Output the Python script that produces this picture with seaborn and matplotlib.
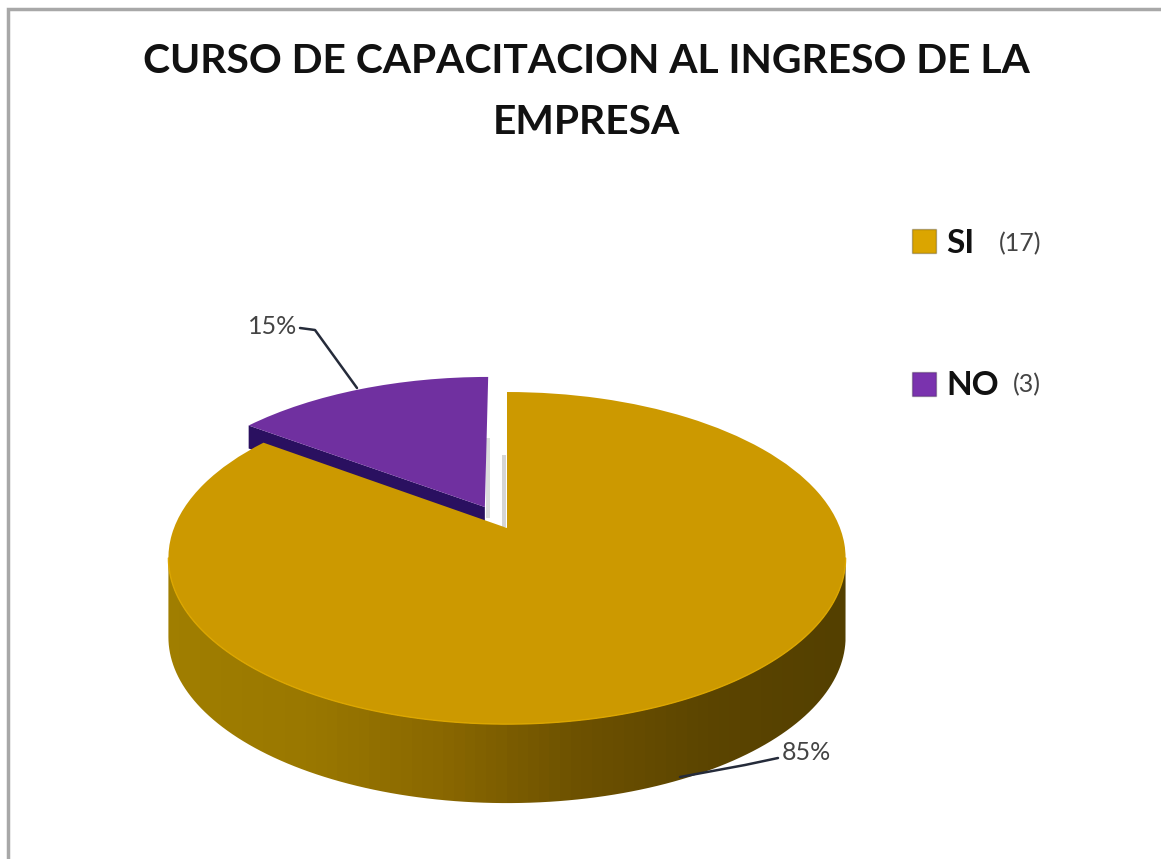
import numpy as np
import matplotlib
matplotlib.use("Agg")
import matplotlib.pyplot as plt
import seaborn as sns
from matplotlib.colors import LinearSegmentedColormap
from matplotlib.patches import Patch, PathPatch, Polygon, Rectangle
from matplotlib.path import Path
from matplotlib.transforms import Transform

# ==============================
# Data
# ==============================
title = "CURSO DE CAPACITACION AL INGRESO DE LA\nEMPRESA"
categories = ["SI", "NO"]
counts = [17, 3]
count_labels = ["(17)", "(3)"]
explode = [0, 0.15]

top_colors = ["#CC9900", "#7030A0"]
wall_colors = ["#A07E00", "#9A7800", "#8A6800", "#6E5200", "#5C4500", "#544000"]
side_color = "#2A1060"

sns.set_theme(style="white")
plt.rcParams["font.family"] = ["Lato", "DejaVu Sans"]

# ==============================
# Perspective of the pie (unit circle -> pixels)
# ==============================
CX, CY = 507, 528
SX, SY, TILT = 333, 160.6, 0.181
DEPTH = 79


def project(xy):
    xy = np.asarray(xy, dtype=float)
    d = 1 + TILT * xy[:, 1]
    return np.column_stack([CX + SX * xy[:, 0] / d, CY - SY * xy[:, 1] / d])


class PieProjection(Transform):
    input_dims = 2
    output_dims = 2

    def transform_non_affine(self, values):
        return project(values)


fig = plt.figure(figsize=(11.61, 8.59), dpi=100, facecolor="white")
ax = fig.add_axes([0, 0, 1, 1])

wedges, _ = ax.pie(counts, explode=explode, colors=top_colors, startangle=90,
                   counterclock=False, radius=1, wedgeprops={"linewidth": 0})
ax.set_aspect("auto")
for w, z in zip(wedges, [4, 3]):
    w.set_transform(PieProjection() + ax.transData)
    w.set_zorder(z)

# ==============================
# Wall of the big slice
# ==============================
theta = np.radians(np.linspace(190.4, 349.6, 120))
rim = project(np.column_stack([np.cos(theta), np.sin(theta)]))
lower = rim + [0, DEPTH]
wall_cmap = LinearSegmentedColormap.from_list("wall", wall_colors)
wall = PathPatch(Path(np.vstack([rim, lower[::-1]])), transform=ax.transData)
im = ax.imshow(np.linspace(0, 1, 64)[None, :], extent=(168, 846, 815, 540),
               cmap=wall_cmap, aspect="auto", zorder=2)
im.set_clip_path(wall)
ax.plot(rim[:, 0], rim[:, 1], color="#DCA600", lw=1, zorder=5)

# ==============================
# Cut face of the exploded slice
# ==============================
start = np.radians(90 + 27)
off = explode[1] * np.array([np.cos(start), np.sin(start)])
corner = np.radians(144)
edge = project([off + [np.cos(corner), np.sin(corner)], off])
ax.add_patch(Polygon(np.vstack([edge, edge[::-1] + [0, 23]]), color=side_color,
                     lw=0, zorder=2))

# faint shadows in the gap between the slices
ax.add_patch(Rectangle((486, 438), 4, 80, color="#DDDDDD", lw=0, zorder=1))
ax.add_patch(Rectangle((502, 455), 4, 72, color="#D5D5D5", lw=0, zorder=1))

# ==============================
# Labels and leader lines
# ==============================
total = sum(counts)
ax.text(273, 327, f"{counts[1] / total:.0%}", fontsize=18, color="#444444",
        ha="center", va="center")
ax.text(806, 752, f"{counts[0] / total:.0%}", fontsize=18, color="#444444",
        ha="center", va="center")
ax.plot([300, 315, 357], [328, 330, 388], color="#252B3A", lw=1.8, zorder=6)
ax.plot([778, 745, 680], [758, 765, 777], color="#252B3A", lw=1.8, zorder=6)

# ==============================
# Legend
# ==============================
handles = [Patch(facecolor=c, edgecolor="#00000040", linewidth=1) for c in ["#DBA500", "#7A33AE"]]
leg = ax.legend(handles, categories, loc="upper left", bbox_to_anchor=(882 / 1161, 1 - 199 / 859),
                frameon=False, handlelength=0.72, handleheight=0.72, handletextpad=0.3,
                labelspacing=3.4, prop={"weight": "bold", "size": 24})
for t in leg.get_texts():
    t.set_color("#111111")
ax.text(1020, 244, count_labels[0], fontsize=18, color="#444444", ha="center", va="center")
ax.text(1027, 385, count_labels[1], fontsize=18, color="#444444", ha="center", va="center")

# ==============================
# Title and picture frame
# ==============================
ax.text(586.5, 92, title, fontsize=29.3, fontweight="bold", color="#111111",
        ha="center", va="center", linespacing=1.78)
ax.plot([8, 8, 1161], [859, 9, 9], color="#A8A8A8", lw=2.5, solid_joinstyle="miter", zorder=7)

ax.set_xlim(0, 1161)
ax.set_ylim(859, 0)
ax.axis("off")
fig.savefig("out.png", dpi=100)
